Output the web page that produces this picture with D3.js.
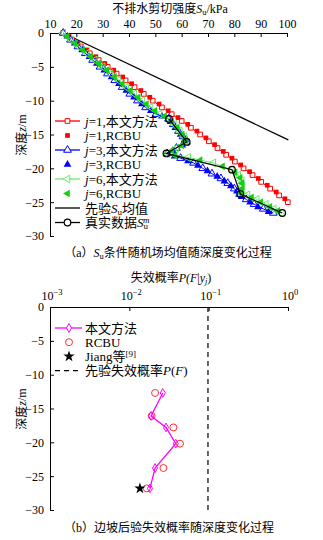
<!DOCTYPE html>
<html><head><meta charset="utf-8">
<script src="https://cdn.jsdelivr.net/npm/d3@7"></script>
<style>
body{margin:0;background:#fff;}
svg text{font-family:"Liberation Serif","Noto Sans CJK SC",serif;fill:#000;}
</style></head>
<body><svg id="c" width="323" height="540"></svg>
<script>
// ---------- data ----------
const suTicks = [10,20,30,40,50,60,70,80,90,100];
const depthTicks = [0,-5,-10,-15,-20,-25,-30];
const pTicks = [-3,-2,-1,0];

const j1Depth = [0,-1,-2,-3,-4,-5,-6,-7,-8,-9,-10,-11,-12,-13,-14,-15,-16,-17,-18,-19,-20,-21,-22,-23,-24,-25];
const j1Su    = [15.0,18.3,21.7,25.1,28.5,31.9,35.3,38.7,42.1,45.6,49.0,52.5,56.2,60.0,63.5,67.0,70.3,73.6,76.9,80.2,83.5,86.9,90.2,93.6,97.0,100.3];
const j1RDepth = [-0.5,-1.5,-2.5,-3.5,-4.5,-5.5,-6.5,-7.5,-8.5,-9.5,-10.5,-11.5,-12.5,-13.5,-14.5,-15.5,-16.5,-17.5,-18.5,-19.5,-20.5,-21.5,-22.5,-23.5,-24.5];
const j1RSu    = [17.2,20.6,24.0,27.4,30.8,34.2,37.6,41.0,44.5,47.9,51.4,54.9,58.6,62.3,65.8,69.2,72.5,75.8,79.1,82.4,85.8,89.1,92.5,95.9,99.2];

const j3Depth = [0,-1,-2,-3,-4,-5,-6,-7,-8,-9,-10,-11,-12,-12.7,-13.5,-14.5,-15.3,-16.1,-17.0,-17.8,-18.5,-19.2,-20.0,-20.8,-21.5,-22.2,-23.0,-23.8,-24.6,-25.3,-26.0,-26.6];
const j3Su    = [15.0,17.8,20.6,23.4,26.2,29.0,31.8,34.6,37.4,40.3,43.2,46.3,50.2,55.0,56.8,58.8,60.5,61.8,58.0,54.5,59.6,64.5,68.0,71.5,74.9,77.5,80.0,82.0,84.5,87.5,91.0,94.8];
const j3RDepth = [-0.5,-1.5,-2.5,-3.5,-4.5,-5.5,-6.5,-7.5,-8.5,-9.5,-10.5,-11.5,-12.3,-13.1,-14.0,-15.0,-15.8,-16.6,-17.4,-18.2,-18.9,-19.6,-20.4,-21.2,-21.9,-22.6,-23.4,-24.2,-25.0,-25.7,-26.4];
const j3RSu    = [16.6,19.4,22.2,25.0,27.8,30.6,33.4,36.2,39.0,41.9,44.9,48.3,52.5,55.8,57.6,59.6,61.1,60.2,56.6,57.3,62.4,66.2,69.8,73.5,76.2,78.7,81.0,82.8,86.0,89.0,93.0];

const j6Depth = [0,-1,-2,-3,-4,-5,-6,-7,-8,-9,-10,-11,-12,-12.7,-13.5,-14.5,-15.3,-16.1,-17.0,-17.8,-18.4,-19.2,-20.2,-21.0,-21.8,-22.6,-23.3,-23.9,-24.6,-25.3,-26.0,-26.6];
const j6Su    = [15.0,18.0,21.0,24.0,27.0,30.0,33.0,36.0,39.0,42.0,45.0,48.2,51.6,55.2,57.3,59.3,61.0,62.0,58.0,54.6,62.5,72.0,79.0,81.5,82.8,83.0,82.8,85.0,88.5,92.0,95.0,98.0];
const j6RDepth = [-0.5,-1.5,-2.5,-3.5,-4.5,-5.5,-6.5,-7.5,-8.5,-9.5,-10.5,-11.5,-12.3,-13.1,-14.0,-15.0,-15.8,-16.6,-17.4,-18.1,-18.8,-19.7,-20.6,-21.4,-22.2,-23.0,-23.7,-24.3,-25.0,-25.7,-26.3];
const j6RSu    = [16.5,19.5,22.5,25.5,28.5,31.5,34.5,37.5,40.5,43.5,46.6,49.8,53.5,56.2,58.3,60.2,61.5,60.0,56.3,57.5,67.0,75.5,80.3,82.2,82.9,82.9,82.5,86.5,90.0,93.5,96.5];

const priorDepth = [0,-15.8];
const priorSu    = [15,100.5];

const measDepth = [-12.7,-16.1,-17.8,-20.2,-23.8,-26.6];
const measSu    = [55.2,61.9,54.2,79.1,82.3,98.2];

const pfDepth = [-12.7,-16.1,-17.8,-20.2,-23.8,-26.8];
const pfOurs  = [0.0264,0.0188,0.0290,0.0385,0.0211,0.0182];
const pfRCBU  = [0.0211,0.0191,0.0359,0.0435,0.0269,0.0166];
const jiangP = [0.0136];
const jiangDepth = [-26.8];
const priorPF = 0.098;

// ---------- drawing ----------
const svg = d3.select("#c");
const RED="#ff0000", BLUE="#0000ff", GREEN_L="#66ee66", GREEN="#10d010", MAG="#ff00ff";
const FS = 12;

function richText(sel, parts){
  parts.forEach(p=>{
    const t = sel.append("tspan").text(p[0]);
    const s = p[1]||"";
    if (s.includes("i")) t.attr("font-style","italic");
    if (s.includes("sub")) t.attr("font-size", FS*0.7).attr("baseline-shift","-25%");
    if (s.includes("sup")) t.attr("font-size", FS*0.7).attr("baseline-shift","45%");
  });
}

// ===== Chart A =====
const xA = d3.scaleLinear().domain([10,100]).range([50,287]);
const yA = d3.scaleLinear().domain([0,-30]).range([33,236]);

const gA = svg.append("g");
const axTopA = d3.axisTop(xA).tickValues(suTicks).tickSizeInner(-4).tickSizeOuter(0).tickPadding(5);
const gxA = gA.append("g").attr("transform","translate(0,33)").call(axTopA);
const axLeftA = d3.axisLeft(yA).tickValues(depthTicks).tickSizeInner(-4).tickSizeOuter(0).tickPadding(6)
  .tickFormat(d=> d===0 ? "0" : "\u2212"+Math.abs(d));
const gyA = gA.append("g").attr("transform","translate(50,0)").call(axLeftA);
[gxA,gyA].forEach(g=>{g.selectAll("text").attr("font-size",FS);
  g.selectAll("path,line").attr("stroke","#000");});

const tA = gA.append("text").attr("x",170).attr("y",13).attr("text-anchor","middle").attr("font-size",FS);
richText(tA,[["不排水剪切强度"],["S","i"],["u","sub"],["/kPa"]]);
const ylA = gA.append("text").attr("transform","translate(26,135) rotate(-90)").attr("text-anchor","middle").attr("font-size",FS);
richText(ylA,[["深度"],["z","i"],["/m"]]);

const lineA = (xs,ys)=> d3.line().x((d,i)=>xA(xs[i])).y((d,i)=>yA(ys[i]))(xs);

const sq = d3.symbol().type(d3.symbolSquare).size(22);
const tri = d3.symbol().type(d3.symbolTriangle).size(26);

function marks(g, xs, ys, pathGen, opts){
  g.selectAll(null).data(xs).enter().append("path")
    .attr("d", pathGen)
    .attr("transform",(d,i)=>`translate(${xA(xs[i])},${yA(ys[i])})${opts.rot?` rotate(${opts.rot})`:""}`)
    .attr("fill", opts.fill).attr("stroke", opts.stroke).attr("stroke-width", opts.sw||1);
}

gA.append("path").attr("d", lineA(priorSu, priorDepth)).attr("fill","none").attr("stroke","#000").attr("stroke-width",1.3);

gA.append("path").attr("d", lineA(j1Su,j1Depth)).attr("fill","none").attr("stroke",RED).attr("stroke-width",1);
marks(gA, j1Su, j1Depth, sq, {fill:"#fff", stroke:RED});
marks(gA, j1RSu, j1RDepth, sq, {fill:RED, stroke:"none"});
gA.append("path").attr("d", lineA(j3Su,j3Depth)).attr("fill","none").attr("stroke",BLUE).attr("stroke-width",1);
marks(gA, j3Su, j3Depth, tri, {fill:"none", stroke:BLUE});
marks(gA, j3RSu, j3RDepth, tri, {fill:BLUE, stroke:"none"});
gA.append("path").attr("d", lineA(j6Su,j6Depth)).attr("fill","none").attr("stroke",GREEN_L).attr("stroke-width",1);
marks(gA, j6Su, j6Depth, tri, {fill:"none", stroke:GREEN_L, rot:-90});
marks(gA, j6RSu, j6RDepth, tri, {fill:GREEN, stroke:"none", rot:-90});
gA.append("path").attr("d", lineA(measSu,measDepth)).attr("fill","none").attr("stroke","#000").attr("stroke-width",1.2);
gA.selectAll(null).data(measSu).enter().append("circle")
  .attr("cx",(d,i)=>xA(measSu[i])).attr("cy",(d,i)=>yA(measDepth[i])).attr("r",3.3)
  .attr("fill","none").attr("stroke","#000").attr("stroke-width",1.2);

const legA = [
  {lbl:[["j","i"],["=1,本文方法"]], line:RED, sym:sq, fill:"#fff", stroke:RED},
  {lbl:[["j","i"],["=1,RCBU"]], sym:sq, fill:RED, stroke:"none"},
  {lbl:[["j","i"],["=3,本文方法"]], line:BLUE, sym:tri, fill:"#fff", stroke:BLUE},
  {lbl:[["j","i"],["=3,RCBU"]], sym:tri, fill:BLUE, stroke:"none"},
  {lbl:[["j","i"],["=6,本文方法"]], line:GREEN_L, sym:tri, fill:"#fff", stroke:GREEN_L, rot:-90},
  {lbl:[["j","i"],["=6,RCBU"]], sym:tri, fill:GREEN, stroke:"none", rot:-90},
  {lbl:[["先验"],["S","i"],["u","sub"],["均值"]], line:"#000"},
  {lbl:[["真实数据"],["S","i"],["u","sub"],["m","isup"]], line:"#000", circ:true}
];
legA.forEach((L,k)=>{
  const y = 121 + k*14.5;
  if (L.line) svg.append("line").attr("x1",55).attr("x2",80).attr("y1",y).attr("y2",y).attr("stroke",L.line).attr("stroke-width",1.3);
  if (L.sym) svg.append("path").attr("d",L.sym).attr("transform",`translate(67.5,${y})${L.rot?` rotate(${L.rot})`:""}`).attr("fill",L.fill).attr("stroke",L.stroke);
  if (L.circ) svg.append("circle").attr("cx",67.5).attr("cy",y).attr("r",3.3).attr("fill","#fff").attr("stroke","#000").attr("stroke-width",1.2);
  const t = svg.append("text").attr("x",85).attr("y",y+4.5).attr("font-size",13);
  L.lbl.forEach(p=>{
    const s=p[1]||""; const ts=t.append("tspan").text(p[0]);
    if (s.includes("i")) ts.attr("font-style","italic");
    if (s==="sub") ts.attr("font-size",9).attr("baseline-shift","-25%");
    if (s==="isup") ts.attr("font-size",9).attr("baseline-shift","40%").attr("dx",-5);
  });
});

const cA = svg.append("text").attr("x",168).attr("y",257).attr("text-anchor","middle").attr("font-size",FS);
richText(cA,[["（a）"],["S","i"],["u","sub"],["条件随机场均值随深度变化过程"]]);

// ===== Chart B =====
const xB = d3.scaleLog().domain([1e-3,1]).range([50,288]);
const yB = d3.scaleLinear().domain([0,-30]).range([307,510]);
const gB = svg.append("g");
const gxB = gB.append("g").attr("transform","translate(0,307)")
  .call(d3.axisTop(xB).tickValues(pTicks.map(e=>Math.pow(10,e))).tickSizeInner(-4).tickSizeOuter(0).tickPadding(6).tickFormat(""));
gxB.selectAll("path,line").attr("stroke","#000");
pTicks.forEach(e=>{
  const t = gB.append("text").attr("x",xB(Math.pow(10,e))+2).attr("y",300).attr("text-anchor","middle").attr("font-size",FS);
  t.append("tspan").text("10");
  t.append("tspan").text(e===0?"0":"\u2212"+Math.abs(e)).attr("font-size",8.5).attr("baseline-shift","55%");
});
const gyB = gB.append("g").attr("transform","translate(50,0)").call(axLeftA.scale(yB));
gyB.selectAll("text").attr("font-size",FS);
gyB.selectAll("path,line").attr("stroke","#000");

const tB = gB.append("text").attr("x",171).attr("y",282).attr("text-anchor","middle").attr("font-size",FS);
richText(tB,[["失效概率"],["P(F","i"],["|"],["y","i"],["j","isub"],[")"]]);
const ylB = gB.append("text").attr("transform","translate(26,409) rotate(-90)").attr("text-anchor","middle").attr("font-size",FS);
richText(ylB,[["深度"],["z","i"],["/m"]]);

gB.append("line").attr("x1",xB(priorPF)).attr("x2",xB(priorPF)).attr("y1",yB(0)).attr("y2",yB(-30))
  .attr("stroke","#000").attr("stroke-width",1.2).attr("stroke-dasharray","5,4");
gB.selectAll(null).data(pfRCBU).enter().append("circle")
  .attr("cx",(d,i)=>xB(pfRCBU[i])).attr("cy",(d,i)=>yB(pfDepth[i])).attr("r",3.5)
  .attr("fill","none").attr("stroke","#ff3030").attr("stroke-width",1);
gB.append("path").attr("d", d3.line().x((d,i)=>xB(pfOurs[i])).y((d,i)=>yB(pfDepth[i]))(pfOurs))
  .attr("fill","none").attr("stroke",MAG).attr("stroke-width",1.3);
const dia = d3.symbol().type(d3.symbolDiamond).size(22);
gB.selectAll(null).data(pfOurs).enter().append("path").attr("d",dia)
  .attr("transform",(d,i)=>`translate(${xB(pfOurs[i])},${yB(pfDepth[i])})`)
  .attr("fill","none").attr("stroke",MAG).attr("stroke-width",1);
const star = d3.symbol().type(d3.symbolStar).size(40);
gB.selectAll(null).data(jiangP).enter().append("path").attr("d",star)
  .attr("transform",(d,i)=>`translate(${xB(jiangP[i])},${yB(jiangDepth[i])})`).attr("fill","#000");

const legB = [
  {lbl:[["本文方法"]], line:MAG, dia:true},
  {lbl:[["RCBU"]], circ:true},
  {lbl:[["Jiang等"],["[9]","sup"]], star:true},
  {lbl:[["先验失效概率"],["P","i"],["("],["F","i"],[")"]], dash:true}
];
legB.forEach((L,k)=>{
  const y = 328 + k*14.2;
  if (L.line) svg.append("line").attr("x1",55).attr("x2",82).attr("y1",y).attr("y2",y).attr("stroke",L.line).attr("stroke-width",1.3);
  if (L.dash) svg.append("line").attr("x1",55).attr("x2",82).attr("y1",y).attr("y2",y).attr("stroke","#000").attr("stroke-width",1.2).attr("stroke-dasharray","5,4");
  if (L.dia) svg.append("path").attr("d",dia).attr("transform",`translate(69,${y})`).attr("fill","#fff").attr("stroke",MAG);
  if (L.circ) svg.append("circle").attr("cx",69).attr("cy",y).attr("r",3.5).attr("fill","none").attr("stroke","#ff3030");
  if (L.star) svg.append("path").attr("d",star).attr("transform",`translate(69,${y})`).attr("fill","#000");
  const t = svg.append("text").attr("x",85).attr("y",y+4.5).attr("font-size",13);
  L.lbl.forEach(p=>{
    const s=p[1]||""; const ts=t.append("tspan").text(p[0]);
    if (s==="i") ts.attr("font-style","italic");
    if (s==="sup") ts.attr("font-size",9).attr("baseline-shift","45%");
  });
});

const cB = svg.append("text").attr("x",169).attr("y",532).attr("text-anchor","middle").attr("font-size",FS);
richText(cB,[["（b）边坡后验失效概率随深度变化过程"]]);
</script></body></html>
